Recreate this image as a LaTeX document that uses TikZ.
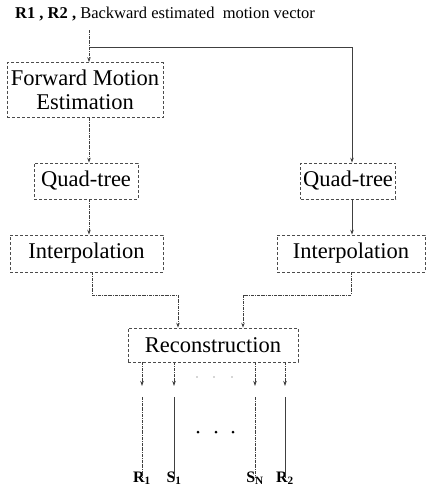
\documentclass[tikz,border=0pt]{standalone}
\usepackage{fontspec}
\setmainfont{Liberation Serif}
\usetikzlibrary{arrows.meta}
\begin{document}
\begin{tikzpicture}[x=1pt,y=-1pt,
  box/.style={draw=black!70,densely dashed,line width=0.7pt,inner sep=0pt,align=center,
    font=\fontsize{22.5}{24}\selectfont},
  conn/.style={draw=black!75,line width=0.7pt,densely dash dot},
  sconn/.style={draw=black!75,line width=0.7pt},
  arr/.style={-{Stealth[length=5pt,width=3.5pt]}},
  lab/.style={font=\fontsize{16}{18}\selectfont\bfseries,inner sep=1pt}]
\useasboundingbox (0,0) rectangle (426,490);
% title
\node[anchor=base west,inner sep=0pt] (title) at (15,18)
  {\fontsize{16.5}{18}\selectfont\textbf{R1 , R2 ,} Backward estimated\ \ motion vector};
% boxes
\node[box,minimum width=156,minimum height=55] (fme) at (85,90) {Forward Motion\\Estimation};
\node[box,minimum width=104,minimum height=36] (lqt) at (86,181) {Quad-tree};
\node[box,minimum width=153,minimum height=37] (lip) at (86.5,253.5) {Interpolation};
\node[box,minimum width=95,minimum height=36] (rqt) at (348,181) {Quad-tree};
\node[box,minimum width=148,minimum height=37] (rip) at (351,253.5) {Interpolation};
\node[box,minimum width=170,minimum height=34] (rec) at (213,345) {Reconstruction};
% x guides
\coordinate (lx) at (89,0);
\coordinate (rx) at (352,0);
\coordinate (src) at (89,30);
\coordinate (br) at (89,47);
\coordinate (jl) at (178,0);
\coordinate (jr) at (243,0);
\coordinate (ml) at (92,295);
\coordinate (mr) at (351,295);
% connectors
\draw[conn,arr] (src) -- (fme.north -| lx);
\draw[sconn,arr] (br) -| (rqt.north -| rx);
\draw[conn,arr] (fme.south -| lx) -- (lqt.north -| lx);
\draw[conn,arr] (lqt.south -| lx) -- (lip.north -| lx);
\draw[sconn,arr] (rqt.south -| rx) -- (rip.north -| rx);
\draw[conn,arr] (lip.south -| ml) -- (ml) -| (rec.north -| jl);
\draw[conn,arr] (rip.south -| mr) -- (mr) -| (rec.north -| jr);
% outputs
\foreach \n/\x/\t/\s in {a/142/R/1,b/174/S/1,c/255/S/N,d/285/R/2}{
  \coordinate (e\n) at (\x,386);
  \coordinate (t\n) at (\x,397);
  \node[lab,anchor=base] (l\n) at (\x,482) {\t\textsubscript{\s}};
  \draw[conn,arr] (rec.south -| e\n) -- (e\n);
}
\draw[conn] (ta) -- ([yshift=-8pt]la.north);
\draw[sconn] (tb) -- ([yshift=-8pt]lb.north);
\draw[conn] (tc) -- ([yshift=-8pt]lc.north);
\draw[sconn] (td) -- ([yshift=-8pt]ld.north);
% dots
\foreach \x in {197,214,232} \fill[black!70] (\x,377) circle (0.7);
\foreach \x in {198,216,233} \fill[black] (\x,432) circle (1.5);
\end{tikzpicture}
\end{document}
